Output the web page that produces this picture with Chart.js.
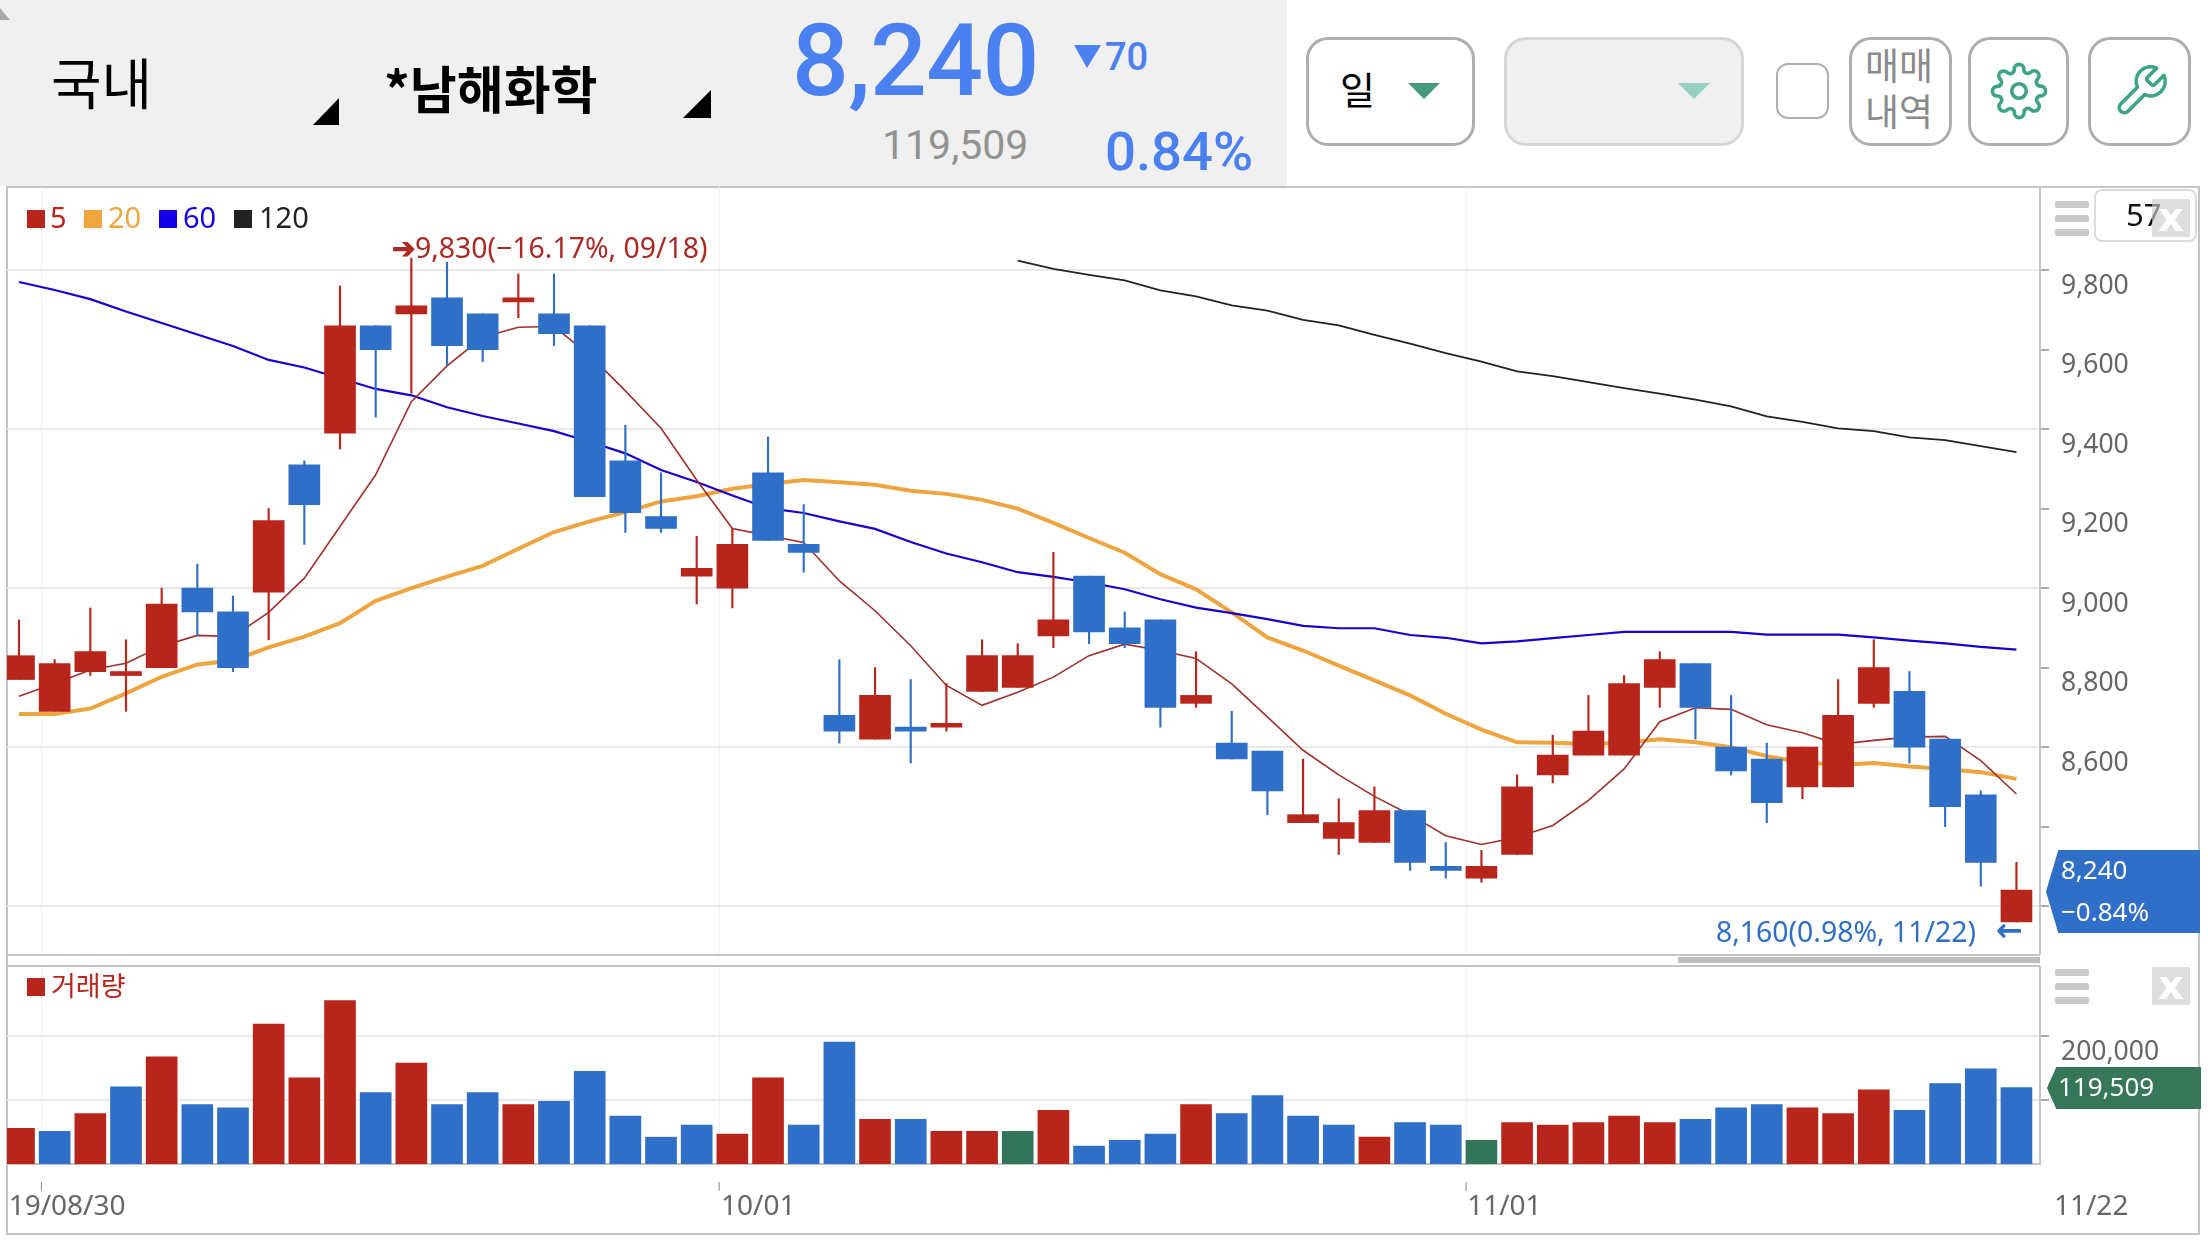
<!DOCTYPE html>
<html lang="ko">
<head>
<meta charset="utf-8">
<title>*남해화학</title>
<script src="https://cdn.jsdelivr.net/npm/chart.js@4/dist/chart.umd.min.js"></script>
<style>
	html, body { margin: 0; padding: 0; background: #fff; width: 2208px; height: 1242px; overflow: hidden; }
	body { position: relative; font-family: "Noto Sans", "Noto Sans CJK KR", sans-serif; }
	.abs, canvas { position: absolute; }
	.t { position: absolute; white-space: nowrap; line-height: 1; }
	.kr { font-family: "Noto Sans CJK KR", sans-serif; }
	.num { font-family: Roboto, sans-serif; }
	.btn { position: absolute; box-sizing: border-box; top: 37px; height: 109px; border: 3px solid #aeaeae; border-radius: 22px; background: #fff; }
	.bar { position: absolute; height: 7px; width: 34px; left: 2055px; background: #c9c9c9; border-radius: 2px; }
	.x { position: absolute; left: 2152px; width: 38px; height: 38px; background: rgba(205, 205, 205, 0.65); color: #fff; font: bold 40px/36px "DejaVu Sans", sans-serif; text-align: center; }
	.sq { position: absolute; top: 210px; width: 18px; height: 18px; }
	.leg { position: absolute; top: 200px; font-size: 29px; line-height: 34px; }
</style>
</head>
<body>
<!-- top bar -->
<div class="abs" style="left:0;top:0;width:1287px;height:186px;background:#f0f0f0"></div>
<svg class="abs" style="left:0;top:0" width="1287" height="186">
	<polygon points="0,8 10,20 0,20" fill="#a8a8a8"/>
	<polygon points="339,98 339,125 313,125" fill="#000"/>
	<polygon points="711,90 711,118 683,118" fill="#000"/>
	<polygon points="1074,45 1101,45 1087,68" fill="#4a80f0"/>
</svg>
<div class="t kr" style="left:51px;top:53px;font-size:55px;color:#000">국내</div>
<div class="t kr" style="left:384px;top:62px;font-size:51px;font-weight:700;color:#000">*남해화학</div>
<div class="t num" style="left:792px;top:11px;font-size:100px;font-weight:500;letter-spacing:-0.6px;color:#4a80f0">8,240</div>
<div class="t num" style="left:1105px;top:38px;font-size:38px;font-weight:500;color:#4a80f0">70</div>
<div class="t num" style="left:882px;top:125px;font-size:41px;color:#929292">119,509</div>
<div class="t num" style="left:1105px;top:124px;font-size:54.5px;font-weight:500;color:#4a80f0">0.84%</div>

<div class="btn" style="left:1306px;width:169px"></div>
<div class="t kr" style="left:1340px;top:69px;font-size:38px;color:#000">일</div>
<div class="btn" style="left:1504px;width:240px;background:#f0f0f0;border-color:#d6d6d6"></div>
<svg class="abs" style="left:1400px;top:80px" width="320" height="24">
	<polygon points="8,3 40,3 24,19" fill="#479a80"/>
	<polygon points="278,3 310,3 294,19" fill="#96d0c0"/>
</svg>
<div class="abs" style="left:1776px;top:63px;width:53px;height:56px;box-sizing:border-box;border:2px solid #b0b0b0;border-radius:12px"></div>
<div class="btn" style="left:1849px;width:103px"></div>
<div class="t kr" style="left:1865px;top:46px;font-size:37px;color:#8a8a8a">매매</div>
<div class="t kr" style="left:1865px;top:92px;font-size:37px;color:#8a8a8a">내역</div>
<div class="btn" style="left:1968px;width:101px"></div>
<svg class="abs" style="left:1990px;top:62px" width="58" height="58" viewBox="0 0 24 24" fill="none" stroke="#3fa388" stroke-width="1.5" stroke-linejoin="round">
	<circle cx="12" cy="12" r="3"/>
	<path d="M19.4 15a1.65 1.65 0 0 0 .33 1.82l.06.06a2 2 0 0 1 0 2.83 2 2 0 0 1-2.83 0l-.06-.06a1.65 1.65 0 0 0-1.82-.33 1.65 1.65 0 0 0-1 1.51V21a2 2 0 0 1-2 2 2 2 0 0 1-2-2v-.09A1.65 1.65 0 0 0 9 19.4a1.65 1.65 0 0 0-1.82.33l-.06.06a2 2 0 0 1-2.83 0 2 2 0 0 1 0-2.83l.06-.06a1.65 1.65 0 0 0 .33-1.82 1.65 1.65 0 0 0-1.51-1H3a2 2 0 0 1-2-2 2 2 0 0 1 2-2h.09A1.65 1.65 0 0 0 4.6 9a1.65 1.65 0 0 0-.33-1.82l-.06-.06a2 2 0 0 1 0-2.83 2 2 0 0 1 2.83 0l.06.06a1.65 1.65 0 0 0 1.82.33H9a1.65 1.65 0 0 0 1-1.51V3a2 2 0 0 1 2-2 2 2 0 0 1 2 2v.09a1.65 1.65 0 0 0 1 1.51 1.65 1.65 0 0 0 1.82-.33l.06-.06a2 2 0 0 1 2.83 0 2 2 0 0 1 0 2.83l-.06.06a1.65 1.65 0 0 0-.33 1.82V9a1.65 1.65 0 0 0 1.51 1H21a2 2 0 0 1 2 2 2 2 0 0 1-2 2h-.09a1.65 1.65 0 0 0-1.51 1z"/>
</svg>
<div class="btn" style="left:2088px;width:103px"></div>
<svg class="abs" style="left:2112px;top:62px" width="58" height="58" viewBox="0 0 24 24" fill="none" stroke="#3fa388" stroke-width="1.5" stroke-linejoin="round">
	<path d="M14.7 6.3a1 1 0 0 0 0 1.4l1.6 1.6a1 1 0 0 0 1.4 0l3.77-3.77a6 6 0 0 1-7.94 7.94l-6.91 6.91a2.12 2.12 0 0 1-3-3l6.91-6.91a6 6 0 0 1 7.94-7.94l-3.76 3.76z"/>
</svg>

<!-- panel frame -->
<div class="abs" style="left:6px;top:186px;width:2194px;height:1049px;box-sizing:border-box;border:2px solid #c4c4c4"></div>

<canvas id="grafico" width="2191" height="768" style="left:7px;top:187px"></canvas>
<canvas id="volume" width="2191" height="269" style="left:7px;top:966px"></canvas>

<!-- separators between the two panels -->
<div class="abs" style="left:7px;top:954px;width:2033px;height:2px;background:#c4c4c4"></div>
<div class="abs" style="left:7px;top:965px;width:2033px;height:2px;background:#c4c4c4"></div>
<div class="abs" style="left:1678px;top:957px;width:362px;height:6px;background:#bdbdbd"></div>

<!-- legend -->
<div class="sq" style="left:27px;background:#b8261b"></div><div class="leg" style="left:50px;color:#b8261b">5</div>
<div class="sq" style="left:84px;background:#f0a63c"></div><div class="leg" style="left:108px;color:#f0a63c">20</div>
<div class="sq" style="left:159px;background:#1400e6"></div><div class="leg" style="left:183px;color:#1400e6">60</div>
<div class="sq" style="left:234px;background:#222"></div><div class="leg" style="left:259px;color:#222">120</div>
<div class="sq" style="left:27px;top:978px;background:#b8261b"></div>
<div class="t kr" style="left:51px;top:971px;font-size:27px;color:#b8261b">거래량</div>

<!-- high / low notes -->
<div class="t" style="left:392px;top:233px;font-size:28.4px;color:#ab2a24"><b>➔</b>9,830(−16.17%, 09/18)</div>
<div class="t" style="left:1716px;top:917px;font-size:28.4px;color:#2f6fc8">8,160(0.98%, 11/22)</div>
<div class="t" style="left:1996px;top:914px;font-size:32px;font-weight:bold;font-family:'DejaVu Sans',sans-serif;color:#2f6fc8">←</div>

<!-- current value tags -->
<div class="abs" style="left:2046px;top:850px;width:154px;height:83px;background:#2f6fc8;clip-path:polygon(8% 0,100% 0,100% 100%,8% 100%,0 50%)"></div>
<div class="t" style="left:2061px;top:856px;font-size:26px;color:#fff">8,240</div>
<div class="t" style="left:2061px;top:898px;font-size:26px;color:#fff">−0.84%</div>
<div class="abs" style="left:2047px;top:1067px;width:154px;height:42px;background:#36775a;clip-path:polygon(6% 0,100% 0,100% 100%,6% 100%,0 50%)"></div>
<div class="t" style="left:2058px;top:1073px;font-size:26px;color:#fff">119,509</div>

<!-- panel buttons -->
<div class="bar" style="top:201px;height:7px"></div><div class="bar" style="top:215px"></div><div class="bar" style="top:229px"></div>
<div class="abs" style="left:2094px;top:189px;width:103px;height:53px;box-sizing:border-box;background:#fff;border:2px solid #dcdcdc;border-radius:8px"></div>
<div class="t" style="left:2126px;top:199px;font-size:31px;color:#111">57</div>
<div class="x" style="top:199px">x</div>
<div class="bar" style="top:969px"></div><div class="bar" style="top:983px"></div><div class="bar" style="top:997px"></div>
<div class="x" style="top:967px">x</div>

<script>
const days = [...Array(57).keys()];

const openValues = [
	8770, 8690, 8790, 8780, 8800, 9000, 8940, 8990, 9310, 9390,
	9660, 9690, 9730, 9690, 9720, 9690, 9660, 9320, 9180, 9030,
	9000, 9290, 9110, 8680, 8620, 8650, 8650, 8740, 8750, 8880,
	9030, 8900, 8920, 8710, 8610, 8590, 8410, 8370, 8360, 8440,
	8300, 8270, 8330, 8530, 8580, 8580, 8750, 8810, 8600, 8570,
	8500, 8500, 8710, 8740, 8620, 8480, 8160
];
const closeValues = [
	8830, 8810, 8840, 8790, 8960, 8940, 8800, 9170, 9210, 9660,
	9600, 9710, 9610, 9600, 9730, 9640, 9230, 9190, 9150, 9050,
	9110, 9120, 9090, 8640, 8730, 8640, 8660, 8830, 8830, 8920,
	8890, 8860, 8700, 8730, 8570, 8490, 8430, 8410, 8440, 8310,
	8290, 8300, 8500, 8580, 8640, 8760, 8820, 8700, 8540, 8460,
	8600, 8680, 8800, 8600, 8450, 8310, 8240
];
const highValues = [
	8920, 8820, 8950, 8870, 9000, 9060, 8980, 9200, 9320, 9760,
	9660, 9830, 9820, 9690, 9790, 9790, 9660, 9410, 9290, 9130,
	9150, 9380, 9210, 8820, 8800, 8770, 8760, 8870, 8860, 9090,
	9030, 8940, 8920, 8840, 8690, 8590, 8570, 8470, 8500, 8440,
	8360, 8340, 8530, 8630, 8730, 8780, 8840, 8810, 8730, 8610,
	8600, 8770, 8870, 8790, 8620, 8490, 8310
];
const lowValues = [
	8770, 8690, 8780, 8690, 8800, 8880, 8790, 8870, 9110, 9350,
	9430, 9490, 9560, 9570, 9680, 9610, 9230, 9140, 9140, 8960,
	8950, 9120, 9040, 8610, 8620, 8560, 8640, 8740, 8750, 8850,
	8860, 8850, 8650, 8700, 8570, 8430, 8410, 8330, 8360, 8290,
	8270, 8260, 8330, 8510, 8580, 8580, 8700, 8620, 8530, 8410,
	8470, 8500, 8700, 8560, 8400, 8250, 8160
];

const ma5 = [
	8728, 8760, 8794, 8811, 8854, 8881, 8878, 8939, 9025, 9155,
	9285, 9469, 9559, 9631, 9656, 9658, 9586, 9496, 9402, 9272,
	9150, 9132, 9115, 9018, 8943, 8855, 8755, 8705, 8738, 8776,
	8830, 8859, 8843, 8823, 8759, 8676, 8592, 8530, 8476, 8430,
	8377, 8355, 8373, 8403, 8466, 8545, 8664, 8699, 8695, 8656,
	8636, 8607, 8617, 8625, 8627, 8566, 8482
];
const ma20 = [
	8683, 8683, 8697, 8735, 8777, 8808, 8818, 8851, 8878, 8912,
	8968, 9000, 9029, 9056, 9099, 9141, 9168, 9191, 9218, 9231,
	9250, 9262, 9272, 9266, 9260, 9245, 9237, 9222, 9200, 9164,
	9126, 9089, 9035, 8997, 8939, 8876, 8843, 8805, 8768, 8730,
	8684, 8644, 8612, 8611, 8608, 8611, 8620, 8612, 8600, 8577,
	8562, 8555, 8560, 8551, 8545, 8537, 8520
];
const ma60 = [
	9770, 9750, 9727, 9696, 9667, 9638, 9609, 9574, 9555, 9528,
	9501, 9485, 9455, 9433, 9414, 9395, 9368, 9339, 9297, 9267,
	9233, 9201, 9189, 9168, 9149, 9116, 9087, 9065, 9040, 9028,
	9014, 8997, 8972, 8951, 8937, 8922, 8905, 8899, 8899, 8882,
	8875, 8861, 8866, 8874, 8882, 8890, 8890, 8890, 8890, 8883,
	8883, 8883, 8876, 8868, 8861, 8852, 8845
];
// 120일선은 09/30 이전 구간에 값이 없음
const ma120 = [
	null, null, null, null, null, null, null, null, null, null,
	null, null, null, null, null, null, null, null, null, null,
	null, null, null, null, null, null, null, null, 9824, 9803,
	9788, 9774, 9749, 9734, 9711, 9698, 9675, 9661, 9637, 9615,
	9591, 9570, 9545, 9533, 9518, 9503, 9489, 9474, 9457, 9432,
	9418, 9402, 9395, 9379, 9372, 9357, 9342
];

const volumes = [
	56000, 51000, 79000, 121000, 168000, 93000, 88000, 219000, 135000, 256000,
	112000, 158000, 93000, 112000, 93000, 98000, 145000, 75000, 42000, 61000,
	47000, 135000, 61000, 191000, 70000, 70000, 51000, 51000, 51000, 84000,
	28000, 37000, 47000, 93000, 79000, 107000, 75000, 61000, 42000, 65000,
	61000, 37000, 65000, 61000, 65000, 75000, 65000, 70000, 88000, 93000,
	88000, 79000, 116000, 84000, 126000, 149000, 119509
];
// 1 = 상승, -1 = 하락, 0 = 보합
const volumeDirection = [
	1, -1, 1, -1, 1, -1, -1, 1, 1, 1,
	-1, 1, -1, -1, 1, -1, -1, -1, -1, -1,
	1, 1, -1, -1, 1, -1, 1, 1, 0, 1,
	-1, -1, -1, 1, -1, -1, -1, -1, 1, -1,
	-1, 0, 1, 1, 1, 1, 1, -1, -1, -1,
	1, 1, 1, -1, -1, -1, -1
];

const priceTicks = [9800, 9600, 9400, 9200, 9000, 8800, 8600, 8400, 8200];
const priceTickLabels = ['9,800', '9,600', '9,400', '9,200', '9,000', '8,800', '8,600', '', ''];
const priceGridLines = [9800, 9400, 9000, 8600, 8200];
const volumeTicks = [200000, 100000];
const volumeTickLabels = ['200,000', ''];
const dateGridAt = [0.63, 19.63, 40.57];
const dateLabelAt = [-0.29, 19.68, 40.6, 57.05];
const dateLabels = ['19/08/30', '10/01', '11/01', '11/22'];

const RED = '#b8261b', BLUE = '#2f6fc8', GREEN = '#33755a';
const FONT = '"Noto Sans", sans-serif';

const candleColors = days.map((d) => (closeValues[d] >= openValues[d] ? RED : BLUE));
const volumeColors = volumeDirection.map((d) => (d > 0 ? RED : d < 0 ? BLUE : GREEN));

function maLine(values, color, width, order) {
	return {
		type: 'line',
		data: days.map((d) => ({ x: d, y: values[d] })),
		borderColor: color,
		borderWidth: width,
		pointRadius: 0,
		tension: 0,
		order: order
	};
}

// 눈금 글자 때문에 차트 영역이 줄어들지 않게 함
function noAxisPadding(scale) {
	scale.paddingLeft = 0;
	scale.paddingRight = 0;
	scale.paddingTop = 0;
	scale.paddingBottom = 0;
}

function xScale(showTicks) {
	return {
		type: 'linear',
		min: -0.336,
		max: 56.66,
		offset: false,
		afterBuildTicks: (scale) => {
			const at = showTicks ? dateGridAt.concat(dateLabelAt) : dateGridAt;
			scale.ticks = at.map((value) => ({ value }));
		},
		afterFit: (scale) => {
			scale.height = showTicks ? 71 : 0;
			noAxisPadding(scale);
		},
		border: showTicks ? { color: '#c4c4c4', width: 2 } : { display: false },
		grid: {
			offset: false,
			drawTicks: false,
			color: (ctx) => (ctx.tick && dateGridAt.includes(ctx.tick.value) ? '#f0f0f0' : 'transparent')
		},
		ticks: {
			display: showTicks,
			autoSkip: false,
			maxRotation: 0,
			align: 'start',
			padding: 26,
			color: '#666',
			font: { family: FONT, size: 28 },
			callback: (value) => {
				const i = dateLabelAt.indexOf(value);
				return i < 0 ? '' : dateLabels[i];
			}
		}
	};
}

function yScale(min, max, tickValues, tickLabels, gridValues) {
	return {
		position: 'right',
		min: min,
		max: max,
		afterBuildTicks: (scale) => { scale.ticks = tickValues.map((value) => ({ value })); },
		afterFit: (scale) => {
			scale.width = 158;
			noAxisPadding(scale);
		},
		border: { color: '#c4c4c4', width: 2 },
		grid: {
			lineWidth: 2,
			tickLength: 9,
			tickColor: '#aaa',
			color: (ctx) => (ctx.tick && gridValues.includes(ctx.tick.value) ? '#e9e9e9' : 'transparent')
		},
		ticks: {
			autoSkip: false,
			padding: 12,
			labelOffset: 16,
			color: '#666',
			font: { family: FONT, size: 26.5 },
			callback: (value) => tickLabels[tickValues.indexOf(value)]
		}
	};
}

const sharedOptions = {
	responsive: false,
	animation: false,
	devicePixelRatio: 1,
	layout: { padding: 0 },
	plugins: { legend: { display: false }, tooltip: { enabled: false } }
};

new Chart(document.getElementById('grafico').getContext('2d'), {
	type: 'bar',
	data: {
		datasets: [
			{
				data: days.map((d) => ({ x: d, y: [openValues[d], closeValues[d]] })),
				backgroundColor: candleColors,
				barThickness: 31,
				minBarLength: 4,
				grouped: false,
				order: 1
			},
			{
				data: days.map((d) => ({ x: d, y: [lowValues[d], highValues[d]] })),
				backgroundColor: candleColors,
				barThickness: 1.5,
				grouped: false,
				order: 2
			},
			maLine(ma5, '#a0302a', 1.6, 3),
			maLine(ma60, '#1a00d0', 2.2, 4),
			maLine(ma20, '#eea43f', 4, 5),
			maLine(ma120, '#222', 1.8, 6)
		]
	},
	options: {
		...sharedOptions,
		scales: {
			x: xScale(false),
			y: yScale(8077, 10009, priceTicks, priceTickLabels, priceGridLines)
		}
	}
});

// 날짜 눈금은 축선에서 조금 떨어져 있음
const dateTickMarks = {
	id: 'dateTickMarks',
	afterDraw(chart) {
		const ctx = chart.ctx;
		ctx.save();
		ctx.strokeStyle = '#888';
		ctx.lineWidth = 1;
		dateGridAt.forEach((value) => {
			const x = chart.scales.x.getPixelForValue(value);
			ctx.beginPath();
			ctx.moveTo(x, chart.chartArea.bottom + 18);
			ctx.lineTo(x, chart.chartArea.bottom + 27);
			ctx.stroke();
		});
		ctx.restore();
	}
};

new Chart(document.getElementById('volume').getContext('2d'), {
	type: 'bar',
	data: {
		datasets: [{
			data: days.map((d) => ({ x: d, y: volumes[d] })),
			backgroundColor: volumeColors,
			barThickness: 31,
			grouped: false
		}]
	},
	options: {
		...sharedOptions,
		scales: {
			x: xScale(true),
			y: yScale(0, 310100, volumeTicks, volumeTickLabels, volumeTicks)
		}
	},
	plugins: [dateTickMarks]
});
</script>
</body>
</html>
